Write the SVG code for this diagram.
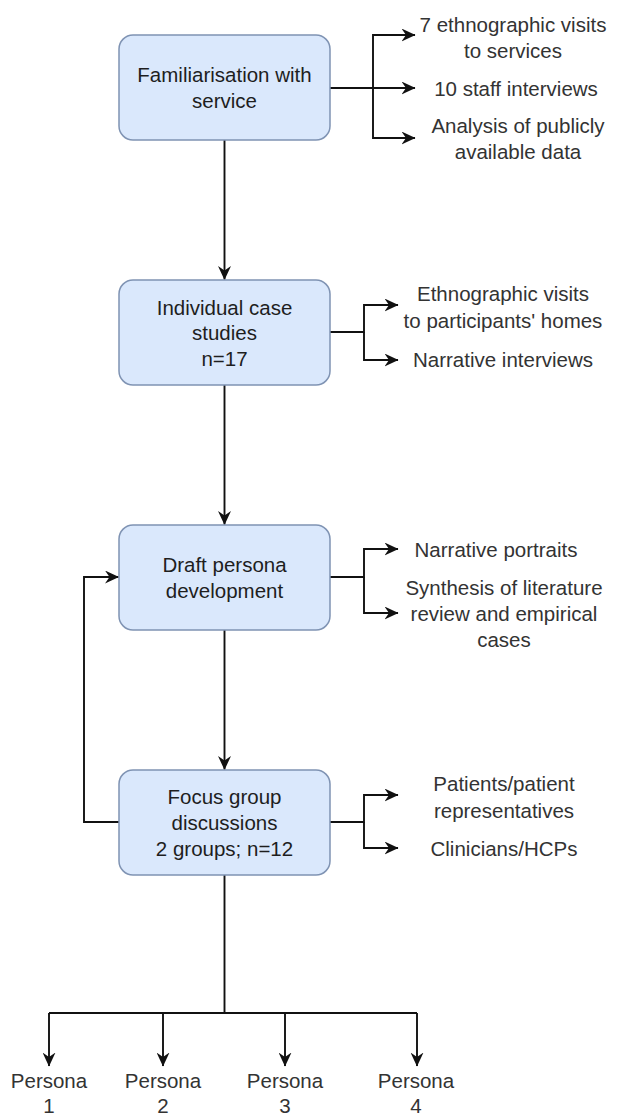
<svg xmlns="http://www.w3.org/2000/svg" width="620" height="1115" viewBox="0 0 620 1115">
<style>
.box{fill:#dae8fc;stroke:#7f93b3;stroke-width:1.5}
.bt{font-family:"Liberation Sans",Arial,sans-serif;font-size:20.5px;fill:#1e1e1e;text-anchor:middle;dominant-baseline:central}
.lt{font-family:"Liberation Sans",Arial,sans-serif;font-size:20.5px;fill:#333;text-anchor:middle;dominant-baseline:central}
.c{fill:none;stroke:#111;stroke-width:1.9}
</style>
<defs>
<marker id="ah" viewBox="0 0 14 13" refX="13.5" refY="6.5" markerWidth="14" markerHeight="13" markerUnits="userSpaceOnUse" orient="auto">
<path d="M0,0 L14,6.5 L0,13 L4.5,6.5 z" fill="#111"/>
</marker>
</defs>
<rect width="620" height="1115" fill="#ffffff"/>
<g id="connectors">
<path class="c" d="M224.5,140 V279.5" marker-end="url(#ah)"/>
<path class="c" d="M224.5,385 V524.5" marker-end="url(#ah)"/>
<path class="c" d="M224.5,630 V769.5" marker-end="url(#ah)"/>
<path class="c" d="M119,822 H84 V577 H118.5" marker-end="url(#ah)"/>
<path class="c" d="M224.5,875 V1013"/>
<path class="c" d="M49,1013 H417"/>
<path class="c" d="M49,1013 V1066" marker-end="url(#ah)"/>
<path class="c" d="M163,1013 V1066" marker-end="url(#ah)"/>
<path class="c" d="M285,1013 V1066" marker-end="url(#ah)"/>
<path class="c" d="M417,1013 V1066" marker-end="url(#ah)"/>
<path class="c" d="M330,88 H415" marker-end="url(#ah)"/>
<path class="c" d="M373,88 V35 H415" marker-end="url(#ah)"/>
<path class="c" d="M373,88 V138 H415" marker-end="url(#ah)"/>
<path class="c" d="M330,332 H364 V305 H398" marker-end="url(#ah)"/>
<path class="c" d="M364,332 V360 H398" marker-end="url(#ah)"/>
<path class="c" d="M330,577 H364 V549 H398" marker-end="url(#ah)"/>
<path class="c" d="M364,577 V613 H398" marker-end="url(#ah)"/>
<path class="c" d="M330,822 H364 V795 H398" marker-end="url(#ah)"/>
<path class="c" d="M364,822 V848 H398" marker-end="url(#ah)"/>
</g>
<g id="n1">
<rect class="box" x="119" y="35" width="211" height="105" rx="14"/>
<text class="bt" x="224.5" y="74.5">Familiarisation with</text>
<text class="bt" x="224.5" y="100.5">service</text>
</g>
<g id="n2">
<rect class="box" x="119" y="280" width="211" height="105" rx="14"/>
<text class="bt" x="224.5" y="307">Individual case</text>
<text class="bt" x="224.5" y="332.5">studies</text>
<text class="bt" x="224.5" y="358">n=17</text>
</g>
<g id="n3">
<rect class="box" x="119" y="525" width="211" height="105" rx="14"/>
<text class="bt" x="224.5" y="564.5">Draft persona</text>
<text class="bt" x="224.5" y="590.5">development</text>
</g>
<g id="n4">
<rect class="box" x="119" y="770" width="211" height="105" rx="14"/>
<text class="bt" x="224.5" y="796">Focus group</text>
<text class="bt" x="224.5" y="822">discussions</text>
<text class="bt" x="224.5" y="848">2 groups; n=12</text>
</g>
<g id="l1a">
<text class="lt" x="513" y="24">7 ethnographic visits</text>
<text class="lt" x="513" y="50">to services</text>
</g>
<g id="l1b"><text class="lt" x="516" y="88">10 staff interviews</text></g>
<g id="l1c">
<text class="lt" x="518" y="125">Analysis of publicly</text>
<text class="lt" x="518" y="151">available data</text>
</g>
<g id="l2a">
<text class="lt" x="503" y="293">Ethnographic visits</text>
<text class="lt" x="503" y="320">to participants' homes</text>
</g>
<g id="l2b"><text class="lt" x="503" y="359">Narrative interviews</text></g>
<g id="l3a"><text class="lt" x="496" y="549">Narrative portraits</text></g>
<g id="l3b">
<text class="lt" x="504" y="587">Synthesis of literature</text>
<text class="lt" x="504" y="613">review and empirical</text>
<text class="lt" x="504" y="639">cases</text>
</g>
<g id="l4a">
<text class="lt" x="504" y="783">Patients/patient</text>
<text class="lt" x="504" y="810">representatives</text>
</g>
<g id="l4b"><text class="lt" x="504" y="848">Clinicians/HCPs</text></g>
<g id="p1"><text class="lt" x="49" y="1080">Persona</text><text class="lt" x="49" y="1105">1</text></g>
<g id="p2"><text class="lt" x="163" y="1080">Persona</text><text class="lt" x="163" y="1105">2</text></g>
<g id="p3"><text class="lt" x="285" y="1080">Persona</text><text class="lt" x="285" y="1105">3</text></g>
<g id="p4"><text class="lt" x="416" y="1080">Persona</text><text class="lt" x="416" y="1105">4</text></g>
</svg>
